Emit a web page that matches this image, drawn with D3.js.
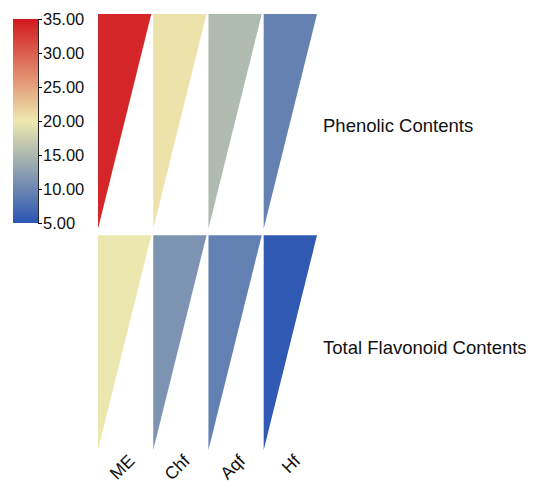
<!DOCTYPE html>
<html><head><meta charset="utf-8">
<script src="https://cdn.jsdelivr.net/npm/d3@7"></script>
<style>body{margin:0;background:#fff}svg{display:block;font-family:Arial,"Liberation Sans",sans-serif}</style>
</head><body>
<svg id="c" width="539" height="488"></svg>
<script>
const columns = ["ME", "Chf", "Aqf", "Hf"];
const rows = ["Phenolic Contents", "Total Flavonoid Contents"];
const phenolic = [34.0, 20.5, 15.2, 9.5];
const flavonoid = [19.8, 11.3, 9.4, 5.4];
const legendTicks = [5, 10, 15, 20, 25, 30, 35];
const rowValues = [phenolic, flavonoid];

const svg = d3.select("#c");
const color = d3.scaleLinear().domain([5, 20, 35]).range(["#2a55b3", "#eee9ae", "#d2181e"]);
const x = d3.scaleBand().domain(columns).range([98, 317]).paddingInner(0.035);
const y = d3.scaleBand().domain(rows).range([14, 450]).paddingInner(0.03);
const labelShift = [11, 11];

rows.forEach((r, ri) => {
  const g = svg.append("g");
  g.selectAll("path").data(columns).join("path")
    .attr("d", (c) => {
      const x0 = x(c), x1 = x(c) + x.bandwidth(), y0 = y(r), y1 = y(r) + y.bandwidth();
      return `M${x0},${y0}L${x1},${y0}L${x0},${y1}Z`;
    })
    .attr("fill", (c, i) => color(rowValues[ri][i]));
  svg.append("text").attr("x", 323).attr("y", y(r) + y.bandwidth() / 2 + labelShift[ri])
    .attr("font-size", 18.5).attr("fill", "#111").text(r);
});

svg.selectAll("text.col").data(columns).join("text").attr("class", "col")
  .attr("transform", c => `translate(${x(c) + x.bandwidth() / 2 + 11},${462}) rotate(-45)`)
  .attr("text-anchor", "end").attr("font-size", 17.5).attr("fill", "#111").text(c => c);

// legend
const ly = d3.scaleLinear().domain([5, 35]).range([223, 19]);
const defs = svg.append("defs");
const grad = defs.append("linearGradient").attr("id", "lg").attr("x1", 0).attr("y1", 1).attr("x2", 0).attr("y2", 0);
d3.range(0, 1.0001, 0.1).forEach(t => {
  grad.append("stop").attr("offset", t).attr("stop-color", color(5 + 30 * t));
});
svg.append("rect").attr("x", 13).attr("y", ly(35)).attr("width", 25).attr("height", ly(5) - ly(35)).attr("fill", "url(#lg)");
const ax = svg.append("g").attr("transform", "translate(38,0)")
  .call(d3.axisRight(ly).tickValues(legendTicks).tickFormat(d3.format(".2f")).tickSize(4).tickPadding(1));
ax.select(".domain").attr("stroke", "#222");
ax.selectAll("text").attr("font-size", 16.5).attr("fill", "#111").attr("font-family", "Arial, Liberation Sans, sans-serif");
</script>
</body></html>
